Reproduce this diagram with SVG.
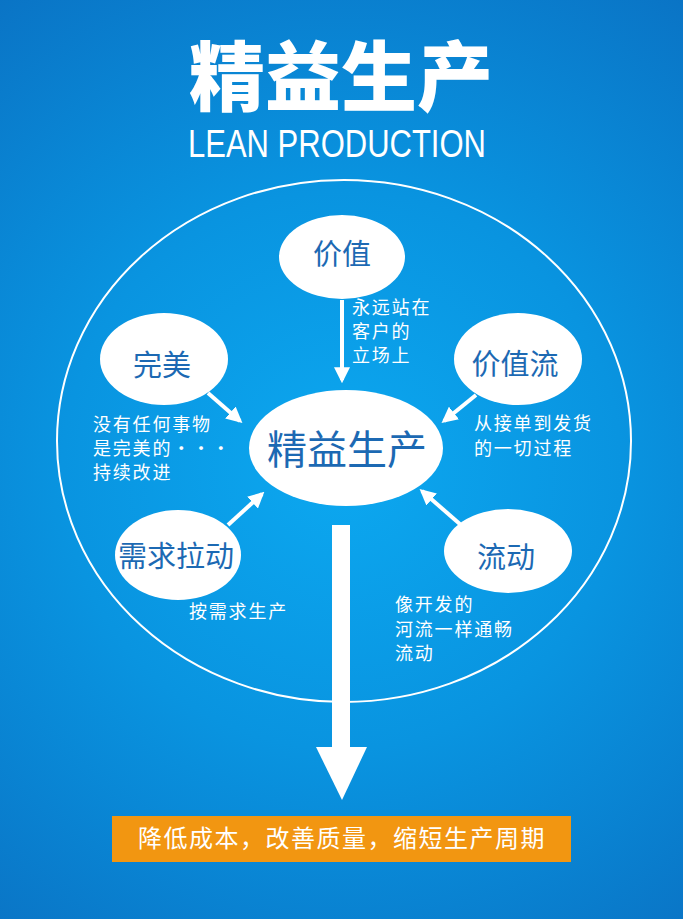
<svg xmlns="http://www.w3.org/2000/svg" width="683" height="919" viewBox="0 0 683 919">
  <defs>
    <radialGradient id="bg" gradientUnits="userSpaceOnUse" cx="342" cy="470" r="620">
      <stop offset="0" stop-color="#0ca8f0"/>
      <stop offset="0.45" stop-color="#0994e0"/>
      <stop offset="1" stop-color="#0a70c2"/>
    </radialGradient>
    <marker id="ah" viewBox="0 0 10 10" refX="8" refY="5" markerUnits="userSpaceOnUse" markerWidth="16" markerHeight="16" orient="auto">
      <path d="M0,0 L10,5 L0,10 z" fill="#ffffff"/>
    </marker>
    <style>
      .cjk { font-family: "Noto Sans CJK SC", "Noto Sans", sans-serif; }
      .node ellipse { fill: #ffffff; }
      .node text { fill: #1c69b3; font-size: 29px; text-anchor: middle; }
      .note { fill: #ffffff; font-size: 18px; letter-spacing: 1.8px; }
      .conn { stroke: #ffffff; stroke-width: 4; fill: none; marker-end: url(#ah); }
    </style>
  </defs>

  <rect x="0" y="0" width="683" height="919" fill="url(#bg)"/>

  <g id="title">
    <text x="341" y="105" class="cjk" font-size="76" font-weight="900" fill="#ffffff" text-anchor="middle">精益生产</text>
    <text x="188" y="157" font-family="Liberation Sans, Arial, sans-serif" font-size="38" fill="#ffffff" textLength="298" lengthAdjust="spacingAndGlyphs">LEAN PRODUCTION</text>
  </g>

  <g id="outer-circle">
    <ellipse cx="344" cy="441" rx="287" ry="261" fill="none" stroke="#ffffff" stroke-width="2"/>
  </g>

  <g id="connectors">
    <line class="conn" x1="342" y1="300" x2="342" y2="380"/>
    <line class="conn" x1="208" y1="393" x2="240" y2="421"/>
    <line class="conn" x1="476" y1="395" x2="444" y2="421"/>
    <line class="conn" x1="228" y1="525" x2="262" y2="494"/>
    <line class="conn" x1="461" y1="525" x2="422" y2="491"/>
    <g id="big-arrow" fill="#ffffff">
      <rect x="332" y="525" width="18" height="224"/>
      <polygon points="316,747 367,747 342,800"/>
    </g>
  </g>

  <g id="node-jiazhi" class="node cjk">
    <ellipse cx="342" cy="257" rx="63" ry="42"/>
    <text x="342" y="265">价值</text>
  </g>
  <g id="node-wanmei" class="node cjk">
    <ellipse cx="164" cy="359" rx="64" ry="46"/>
    <text x="162" y="376">完美</text>
  </g>
  <g id="node-jiazhiliu" class="node cjk">
    <ellipse cx="518" cy="359" rx="64" ry="46"/>
    <text x="515" y="375">价值流</text>
  </g>
  <g id="node-center" class="node cjk">
    <ellipse cx="346" cy="448" rx="97" ry="58"/>
    <text x="347" y="464" style="font-size:40px">精益生产</text>
  </g>
  <g id="node-xuqiu" class="node cjk">
    <ellipse cx="178" cy="555" rx="63" ry="45"/>
    <text x="176" y="567">需求拉动</text>
  </g>
  <g id="node-liudong" class="node cjk">
    <ellipse cx="508" cy="551" rx="64" ry="42"/>
    <text x="506" y="568">流动</text>
  </g>

  <g id="notes" class="cjk">
    <text class="note" x="352" y="314"><tspan x="352" y="314">永远站在</tspan><tspan x="352" y="338">客户的</tspan><tspan x="352" y="362">立场上</tspan></text>
    <text class="note" x="93" y="431"><tspan x="93" y="431">没有任何事物</tspan><tspan x="93" y="455">是完美的・・・</tspan><tspan x="93" y="479">持续改进</tspan></text>
    <text class="note" x="474" y="430"><tspan x="474" y="430">从接单到发货</tspan><tspan x="474" y="455">的一切过程</tspan></text>
    <text class="note" x="189" y="618">按需求生产</text>
    <text class="note" x="395" y="611"><tspan x="395" y="611">像开发的</tspan><tspan x="395" y="636">河流一样通畅</tspan><tspan x="395" y="660">流动</tspan></text>
  </g>

  <g id="result">
    <rect x="112" y="816" width="459" height="46" fill="#f29611"/>
    <text x="342" y="847" class="cjk" font-size="24" letter-spacing="1.5" fill="#ffffff" text-anchor="middle">降低成本，改善质量，缩短生产周期</text>
  </g>
</svg>
